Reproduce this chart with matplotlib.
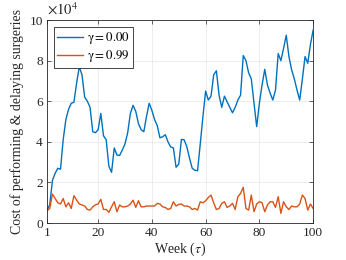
import numpy as np
import matplotlib
matplotlib.use("Agg")
import matplotlib.pyplot as plt
from matplotlib.ticker import FuncFormatter

plt.rcParams['font.family'] = 'Liberation Serif'
plt.rcParams['mathtext.fontset'] = 'stix'

# weekly cost
weeks = np.arange(1, 101)
cost_g000 = [0.65, 0.9, 2.1, 2.45, 2.7, 2.65, 4.1, 5.1, 5.6, 5.9,
             5.95, 6.9, 7.7, 7.3, 6.2, 6.0, 5.7, 4.5, 4.45, 4.6,
             5.4, 4.3, 4.1, 2.8, 2.5, 3.7, 3.35, 3.33, 3.6, 3.9,
             4.45, 5.4, 5.8, 5.5, 4.9, 4.6, 4.5, 5.25, 5.9, 5.55,
             5.1, 4.8, 4.2, 4.25, 4.35, 4.0, 3.75, 3.7, 2.75, 2.9,
             4.12, 4.1, 3.76, 3.2, 2.7, 2.6, 2.58, 3.9, 5.25, 6.5,
             6.06, 6.25, 7.3, 7.5, 6.3, 5.7, 6.25, 5.97, 5.7, 5.43,
             5.7, 6.06, 6.3, 8.25, 8.0, 7.4, 7.1, 5.9, 4.75, 5.9,
             6.8, 7.57, 6.8, 6.4, 6.06, 6.55, 8.35, 8.0, 8.6, 9.25,
             8.2, 7.55, 7.1, 6.55, 6.06, 7.1, 8.2, 7.87, 8.8, 9.5]
cost_g099 = [0.61, 0.72, 1.43, 1.21, 1.0, 0.94, 1.21, 0.8, 1.0, 0.72,
             1.35, 1.13, 0.94, 0.89, 0.84, 0.67, 0.64, 0.8, 0.9, 0.94,
             1.17, 0.67, 0.67, 0.53, 0.8, 1.05, 0.56, 0.89, 0.8, 0.8,
             0.84, 0.94, 1.13, 0.77, 1.1, 0.8, 0.8, 0.84, 0.84, 0.84,
             0.84, 0.97, 0.94, 0.8, 0.77, 0.67, 0.72, 1.05, 0.84, 0.92,
             0.94, 0.84, 0.84, 0.8, 0.67, 0.72, 0.64, 1.05, 1.0, 1.1,
             1.26, 1.38, 1.0, 0.67, 0.72, 0.97, 1.05, 0.77, 0.84, 0.97,
             0.67, 1.3, 1.46, 1.76, 0.72, 0.64, 1.38, 0.56, 0.94, 1.05,
             1.0, 0.56, 0.89, 1.05, 1.05, 0.77, 1.3, 0.48, 1.05, 0.8,
             0.67, 0.84, 0.8, 0.8, 0.94, 1.38, 1.21, 0.64, 0.94, 0.72]
cost_g000 = np.array(cost_g000) * 1e4
cost_g099 = np.array(cost_g099) * 1e4

x_ticks = [1, 20, 40, 60, 80, 100]
y_ticks = [0, 2e4, 4e4, 6e4, 8e4, 10e4]

fig = plt.figure(figsize=(3.46, 2.6), dpi=100)
ax = fig.add_axes([0.136, 0.142, 0.769, 0.781])

ax.plot(weeks, cost_g000, color='#0072BD', lw=1.0, label=r'$\mathrm{\gamma} = 0.00$')
ax.plot(weeks, cost_g099, color='#D95319', lw=1.0, label=r'$\mathrm{\gamma} = 0.99$')

ax.set_xlim(1, 100)
ax.set_ylim(0, 10e4)
ax.set_xticks(x_ticks)
ax.set_yticks(y_ticks)
ax.yaxis.set_major_formatter(FuncFormatter(lambda v, p: '%g' % (v / 1e4)))
ax.text(0.0, 1.01, r'$\times10^{4}$', transform=ax.transAxes, fontsize=10.5,
        ha='left', va='bottom', color='#262626')

ax.grid(True, color='#e6e6e6', lw=0.5)
ax.set_axisbelow(True)
ax.tick_params(direction='in', length=3, width=0.5, labelsize=9.6,
               colors='#262626', top=True, right=True, pad=3)
for s in ax.spines.values():
    s.set_linewidth(0.6)
    s.set_color('#262626')

ax.set_xlabel(r'Week ($\tau$)', fontsize=10, labelpad=1, color='#262626')
ax.set_ylabel('Cost of performing & delaying surgeries', fontsize=10,
              labelpad=4, color='#262626')

leg = ax.legend(loc='upper left', fontsize=9.3, handlelength=2.0,
                fancybox=False, framealpha=1, edgecolor='#262626',
                borderpad=0.25, labelspacing=0.15, handletextpad=0.3,
                borderaxespad=0.55)
leg.get_frame().set_linewidth(0.6)

fig.savefig('out.png', dpi=100)
